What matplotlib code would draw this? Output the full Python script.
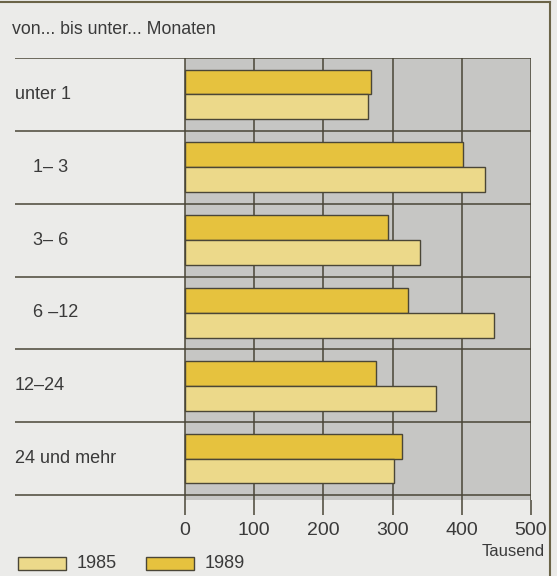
import numpy as np
import matplotlib.pyplot as plt
from matplotlib.patches import Rectangle

categories = ['unter 1', '1– 3', '3– 6', '6 –12', '12–24', '24 und mehr']
label_x = [15, 33, 33, 33, 15, 15]  # pixel offset of the labels as printed
vals_1985 = [264, 434, 340, 446, 363, 302]
vals_1989 = [269, 402, 293, 322, 276, 314]
ticks = [0, 100, 200, 300, 400, 500]

plt.rcParams['font.family'] = ['Liberation Sans', 'DejaVu Sans']

W, H = 557, 576
bg = '#ebebe9'
grey = '#c6c6c4'
c85 = '#ecd98a'
c89 = '#e6c23e'
edge = '#4a4637'
txt = '#3a3a3a'

fig = plt.figure(figsize=(W / 100, H / 100), dpi=100, facecolor=bg)

# plot area: x from px 15 to 531, y from px 58 to 500
x_left_px, x0_px, x500_px = 15, 185, 531
scale = (x500_px - x0_px) / 500.0
xmin = -(x0_px - x_left_px) / scale
ax = fig.add_axes([x_left_px / W, 1 - 500 / H, (x500_px - x_left_px) / W, (500 - 58) / H])
ax.set_facecolor(bg)
for s in ax.spines.values():
    s.set_visible(False)

n = len(categories)
y = np.arange(n)
ax.set_xlim(xmin, 500)
grp = (495 - 58) / n
ax.set_ylim(n - 0.5 + 5 / grp, -0.5)

ax.axvspan(0, 500, color=grey, zorder=0, lw=0)
for t in ticks:
    ax.axvline(t, color=edge, lw=1.1, zorder=1)
ax.hlines(np.arange(n + 1) - 0.5, xmin, 500, color=edge, lw=1.1, zorder=1)

h = 0.34
ax.barh(y - h / 2, vals_1989, height=h, color=c89, edgecolor=edge, lw=1, zorder=3)
ax.barh(y + h / 2, vals_1985, height=h, color=c85, edgecolor=edge, lw=1, zorder=3)

ax.set_yticks([])
ax.set_xticks(ticks)
ax.set_xticklabels([str(t) for t in ticks], fontsize=14, color=txt)
ax.tick_params(axis='x', length=11, width=1.1, color=edge, pad=5)

for i, (lab, lx) in enumerate(zip(categories, label_x)):
    ax.text(xmin + (lx - x_left_px) / scale, i, lab, fontsize=13, color=txt,
            ha='left', va='center')

fig.text(12 / W, 1 - 30 / H, 'von... bis unter... Monaten', fontsize=12.8, color=txt,
         ha='left', va='center')
fig.text(545 / W, 1 - 552 / H, 'Tausend', fontsize=12, color=txt, ha='right', va='center')

# legend
for x_px, col, lab in [(18, c85, '1985'), (146, c89, '1989')]:
    fig.patches.append(Rectangle((x_px / W, 1 - 570 / H), 48 / W, 13 / H,
                                 transform=fig.transFigure, facecolor=col,
                                 edgecolor=edge, lw=1))
    fig.text((x_px + 59) / W, 1 - 564 / H, lab, fontsize=13, color=txt,
             ha='left', va='center')

# outer frame
fig.lines.append(plt.Line2D([0, 550 / W], [1 - 2 / H, 1 - 2 / H], transform=fig.transFigure,
                            color='#6b6448', lw=1.5))
fig.lines.append(plt.Line2D([550 / W, 550 / W], [0, 1 - 2 / H], transform=fig.transFigure,
                            color='#6b6448', lw=1.5))

fig.savefig('out.png', dpi=100, facecolor=bg)
